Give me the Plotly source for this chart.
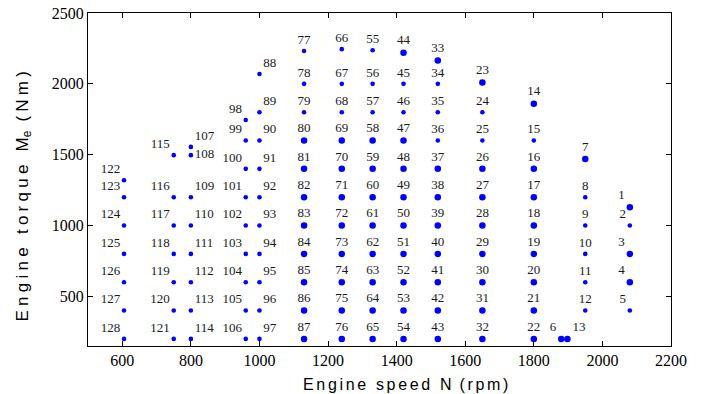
import plotly.graph_objects as go

# ---- data: operating points (id, speed rpm, torque Nm) ----
point_ids = list(range(1, 129))
speed = [
    2080, 2080, 2080, 2080, 2080,            # 1-5
    1880,                                    # 6
    1950, 1950, 1950, 1950, 1950, 1950,      # 7-12
    1898,                                    # 13
    1800, 1800, 1800, 1800, 1800, 1800, 1800, 1800, 1800,   # 14-22
    1650, 1650, 1650, 1650, 1650, 1650, 1650, 1650, 1650, 1650,   # 23-32
    1520, 1520, 1520, 1520, 1520, 1520, 1520, 1520, 1520, 1520, 1520,  # 33-43
    1420, 1420, 1420, 1420, 1420, 1420, 1420, 1420, 1420, 1420, 1420,  # 44-54
    1330, 1330, 1330, 1330, 1330, 1330, 1330, 1330, 1330, 1330, 1330,  # 55-65
    1240, 1240, 1240, 1240, 1240, 1240, 1240, 1240, 1240, 1240, 1240,  # 66-76
    1130, 1130, 1130, 1130, 1130, 1130, 1130, 1130, 1130, 1130, 1130,  # 77-87
    1000, 1000, 1000, 1000, 1000, 1000, 1000, 1000, 1000, 1000,        # 88-97
    960, 960, 960, 960, 960, 960, 960, 960, 960,                       # 98-106
    800, 800, 800, 800, 800, 800, 800, 800,                            # 107-114
    750, 750, 750, 750, 750, 750, 750,                                 # 115-121
    605, 605, 605, 605, 605, 605, 605,                                 # 122-128
]
torque = [
    1130, 1000, 800, 600, 400,
    200,
    1470, 1200, 1000, 800, 600, 400,
    200,
    1860, 1600, 1400, 1200, 1000, 800, 600, 400, 200,
    2010, 1800, 1600, 1400, 1200, 1000, 800, 600, 400, 200,
    2165, 2000, 1800, 1600, 1400, 1200, 1000, 800, 600, 400, 200,
    2220, 2000, 1800, 1600, 1400, 1200, 1000, 800, 600, 400, 200,
    2237, 2000, 1800, 1600, 1400, 1200, 1000, 800, 600, 400, 200,
    2245, 2000, 1800, 1600, 1400, 1200, 1000, 800, 600, 400, 200,
    2232, 2000, 1800, 1600, 1400, 1200, 1000, 800, 600, 400, 200,
    2070, 1800, 1600, 1400, 1200, 1000, 800, 600, 400, 200,
    1745, 1600, 1400, 1200, 1000, 800, 600, 400, 200,
    1555, 1497, 1200, 1000, 800, 600, 400, 200,
    1497, 1200, 1000, 800, 600, 400, 200,
    1320, 1200, 1000, 800, 600, 400, 200,
]
# points drawn with the larger marker
large_ids = ([1, 3, 4, 6, 7, 13, 14] + list(range(16, 23)) + [23] + list(range(26, 33))
             + [33] + list(range(37, 44)) + [44] + list(range(47, 55))
             + list(range(58, 66)) + list(range(69, 77)) + list(range(80, 88)))

x_ticks = [600, 800, 1000, 1200, 1400, 1600, 1800, 2000, 2200]
y_ticks = [500, 1000, 1500, 2000, 2500]

# ---- label placement groups ----
left_ids = set(range(1, 6)) | {6} | set(range(98, 107)) | set(range(115, 129))
right_ids = set(range(88, 98)) | {13} | set(range(107, 115))

def text_pos(i):
    if i == 108:
        return "middle right"
    if i in left_ids:
        return "top left"
    if i in right_ids:
        return "top right"
    return "top center"

sizes = [6.5 if i in large_ids else 4.6 for i in point_ids]
positions = [text_pos(i) for i in point_ids]

SERIF = "Times New Roman"
SANS = "Liberation Sans"

fig = go.Figure()
fig.add_trace(go.Scatter(
    x=speed, y=torque, mode="markers+text",
    text=[str(i) for i in point_ids],
    textposition=positions,
    textfont=dict(family=SERIF, size=13, color="#1a1a1a"),
    marker=dict(color="#0000ff", size=sizes, opacity=1, line=dict(width=0)),
    cliponaxis=False, showlegend=False,
))

def spaced(s, gap):
    return gap.join(list(s))

xtitle = spaced("Engine speed N", "\u2006") + "\u2002" + spaced("(rpm)", "\u2006")
g = "\u2005"
ytitle = spaced("Engine torque M", g) + "<sub>e</sub>" + g + " " + spaced("(Nm)", g)

fig.update_layout(
    template="none",
    font=dict(family=SERIF, size=16, color="black"),
    width=704, height=394,
    margin=dict(l=88, r=33, t=13, b=48),
    paper_bgcolor="white", plot_bgcolor="white",
    xaxis=dict(
        range=[500, 2200], tickvals=x_ticks, ticktext=[str(v) for v in x_ticks],
        ticks="inside", ticklen=5, tickwidth=1, tickcolor="black",
        showline=True, linecolor="black", linewidth=1.2, mirror="ticks",
        showgrid=False, zeroline=False,
        tickfont=dict(family=SERIF, size=16, color="black"),
    ),
    yaxis=dict(
        range=[150, 2500], tickvals=y_ticks, ticktext=[str(v) for v in y_ticks],
        ticks="inside", ticklen=5, tickwidth=1, tickcolor="black",
        showline=True, linecolor="black", linewidth=1.2, mirror="ticks",
        showgrid=False, zeroline=False,
        tickfont=dict(family=SERIF, size=16, color="black"),
    ),
    annotations=[
        dict(text=xtitle, xref="paper", yref="paper", x=0.545, y=-0.117,
             xanchor="center", yanchor="middle", showarrow=False,
             font=dict(family=SANS, size=16, color="black")),
        dict(text=ytitle, xref="paper", yref="paper", x=-0.1098, y=0.449,
             xanchor="center", yanchor="middle", showarrow=False, textangle=-90,
             font=dict(family=SANS, size=17, color="black")),
    ],
)

fig.write_html("out.html")
